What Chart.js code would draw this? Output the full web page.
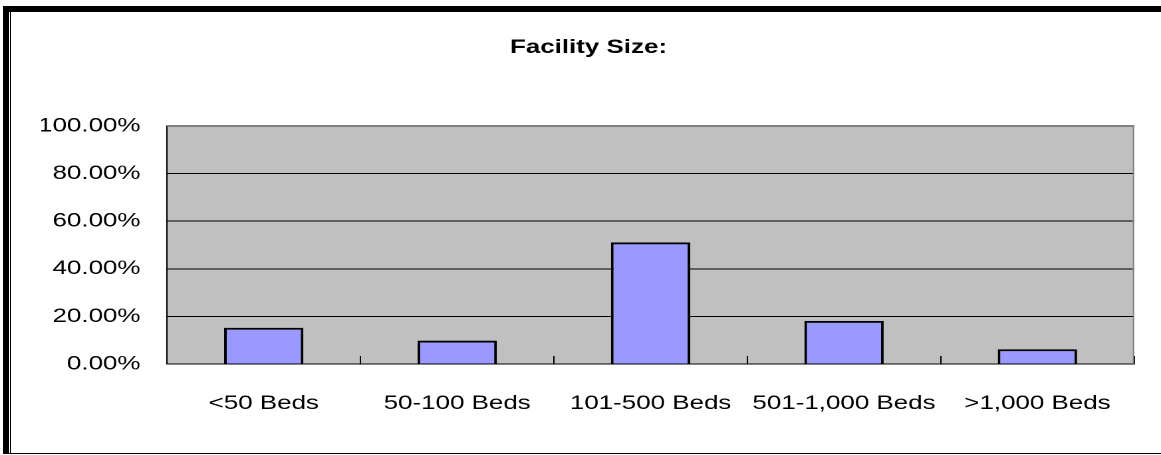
<!DOCTYPE html>
<html>
<head>
<meta charset="utf-8">
<script src="https://cdn.jsdelivr.net/npm/chart.js@4"></script>
<style>
  html, body { margin: 0; padding: 0; background: #fff; width: 1161px; height: 455px; overflow: hidden; }
  #wrap { position: absolute; left: 0; top: 0; width: 873px; height: 455px; transform: scaleX(1.3299); transform-origin: 0 0; }
  .f { position: absolute; background: #000; }
</style>
</head>
<body>
<div id="wrap"><canvas id="c" width="873" height="455"></canvas></div>
<div class="f" style="left:3px;top:6px;width:1158px;height:6px;"></div>
<div class="f" style="left:3px;top:6px;width:6px;height:448px;"></div>
<div class="f" style="left:10px;top:12px;width:1px;height:442px;"></div>
<div class="f" style="left:3px;top:453px;width:1158px;height:1px;"></div>
<script>
const titleText = 'Facility Size:';
const categories = ['<50 Beds', '50-100 Beds', '101-500 Beds', '501-1,000 Beds', '>1,000 Beds'];
const percentValues = [15.25, 9.8, 51.1, 18.1, 6.2];
const yTicks = [0, 20, 40, 60, 80, 100];

const plotStyle = {
  id: 'plotStyle',
  beforeDraw(chart) {
    const a = chart.chartArea, ctx = chart.ctx;
    ctx.save();
    ctx.fillStyle = '#C0C0C0';
    ctx.fillRect(a.left, a.top, a.right - a.left, a.bottom - a.top);
    ctx.restore();
  },
  afterDatasetsDraw(chart) {
    const a = chart.chartArea, ctx = chart.ctx;
    ctx.save();
    ctx.strokeStyle = '#808080';
    ctx.lineWidth = 1;
    ctx.beginPath();
    ctx.moveTo(a.left, a.top + 0.5);
    ctx.lineTo(a.right - 0.5, a.top + 0.5);
    ctx.lineTo(a.right - 0.5, a.bottom);
    ctx.stroke();
    ctx.restore();
  }
};

const font = { family: "'Liberation Sans', Arial, sans-serif", size: 19.5 };

new Chart(document.getElementById('c'), {
  type: 'bar',
  data: {
    labels: categories,
    datasets: [{
      data: percentValues,
      backgroundColor: '#9999FF',
      borderColor: '#000000',
      borderWidth: 2,
      borderSkipped: 'bottom',
      barPercentage: 0.41,
      categoryPercentage: 1.0
    }]
  },
  options: {
    responsive: false,
    devicePixelRatio: 2,
    animation: false,
    layout: { padding: { left: 31, right: 19, top: 10, bottom: 10 } },
    plugins: {
      legend: { display: false },
      tooltip: { enabled: false },
      title: {
        display: true,
        text: titleText,
        color: '#000',
        font: { family: font.family, size: 19.5, weight: 'bold', lineHeight: 1.2 },
        padding: { top: 26, bottom: 66.6 }
      }
    },
    scales: {
      x: {
        offset: true,
        grid: { display: true, offset: true, drawOnChartArea: false, drawTicks: true, tickLength: -8, color: '#000', lineWidth: 1 },
        border: { display: true, color: '#000', width: 1 },
        ticks: { color: '#000', font: font, padding: 36, maxRotation: 0, autoSkip: false },
        afterFit(s) { s.height = 81; }
      },
      y: {
        min: 0,
        max: 100,
        afterBuildTicks(s) { s.ticks = yTicks.map(v => ({ value: v })); },
        grid: { color: '#000', lineWidth: 1, drawTicks: false },
        border: { display: true, color: '#000', width: 1 },
        ticks: {
          color: '#000', font: font, padding: 20,
          callback: v => v.toFixed(2) + '%'
        },
        afterFit(s) { s.width = 94.6; }
      }
    }
  },
  plugins: [plotStyle]
});
</script>
</body>
</html>
